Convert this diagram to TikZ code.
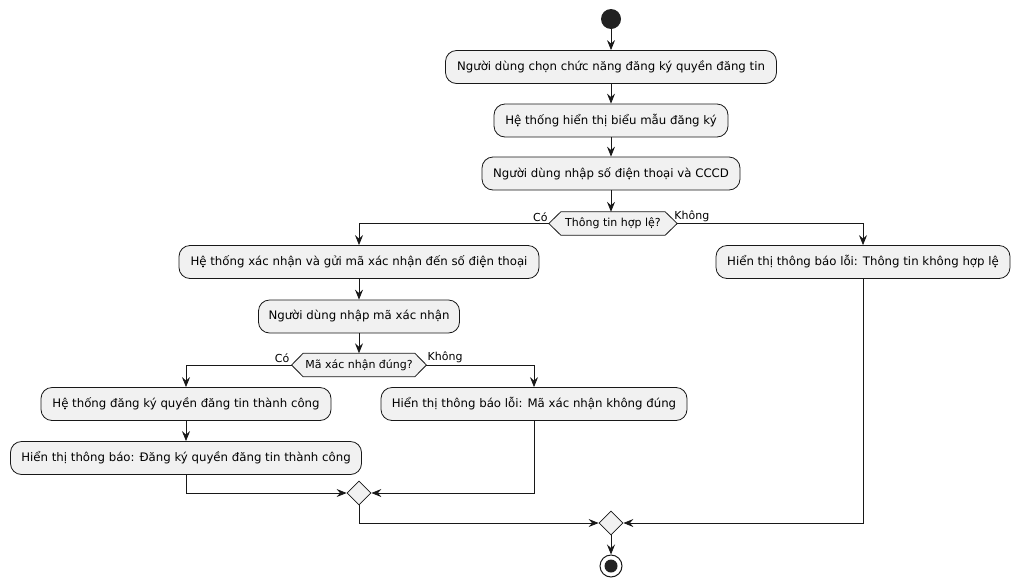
\documentclass[tikz,border=0pt]{standalone}
\usepackage{fontspec}
\setmainfont{DejaVu Sans}
\usetikzlibrary{arrows.meta,shapes.geometric,calc,backgrounds}
\definecolor{boxfill}{HTML}{F1F1F1}
\definecolor{edge}{HTML}{181818}
\definecolor{startc}{HTML}{222222}
\begin{document}
\begin{tikzpicture}[x=1pt,y=-1pt,
  act/.style={draw=edge, fill=boxfill, rounded corners=11pt, line width=0.8pt, minimum height=33pt, inner xsep=8pt, font=\fontsize{11.75}{14}\selectfont},
  dtext/.style={inner xsep=2pt, inner ysep=0pt, minimum height=23pt, font=\fontsize{11}{13}\selectfont},
  hex/.style={draw=edge, fill=boxfill, line width=0.8pt},
  merge/.style={diamond, draw=edge, fill=boxfill, line width=0.8pt, minimum width=24pt, minimum height=24pt, inner sep=0pt},
  arr/.style={draw=edge, line width=0.8pt, -{Stealth[length=10pt,width=8pt,inset=3.5pt]}},
  ln/.style={draw=edge, line width=0.8pt},
  lbl/.style={font=\fontsize{11}{13}\selectfont, inner sep=1pt},
]
\useasboundingbox (0,0) rectangle (1020,587);

\node[circle, fill=startc, minimum size=20pt, inner sep=0pt] (start) at (611,19) {};
\node[act, minimum width=331pt] (b1) at (611,67) {Người dùng chọn chức năng đăng ký quyền đăng tin};
\node[act, minimum width=234pt] (b2) at (611,120.5) {Hệ thống hiển thị biểu mẫu đăng ký};
\node[act, minimum width=258pt] (b3) at (611,173.5) {Người dùng nhập số điện thoại và CCCD};

\node[dtext, minimum width=104pt] (d1) at (613,223.5) {Thông tin hợp lệ?};
\coordinate (d1w) at ($(d1.west)+(-12,0)$);
\coordinate (d1e) at ($(d1.east)+(12,0)$);
\coordinate (d1t) at (611,0 |- d1.north);

\node[act, minimum width=360pt] (b4) at (359,262) {Hệ thống xác nhận và gửi mã xác nhận đến số điện thoại};
\node[act, minimum width=294pt] (br) at (863,262) {Hiển thị thông báo lỗi: Thông tin không hợp lệ};
\node[act, minimum width=201pt] (b5) at (359,316.5) {Người dùng nhập mã xác nhận};

\node[dtext, minimum width=111pt] (d2) at (359,365) {Mã xác nhận đúng?};
\coordinate (d2w) at ($(d2.west)+(-11.5,0)$);
\coordinate (d2e) at ($(d2.east)+(11.5,0)$);

\node[act, minimum width=290pt] (b6) at (186,404) {Hệ thống đăng ký quyền đăng tin thành công};
\node[act, minimum width=306pt] (b8) at (534,404) {Hiển thị thông báo lỗi: Mã xác nhận không đúng};
\node[act, minimum width=351pt] (b7) at (186,458) {Hiển thị thông báo: Đăng ký quyền đăng tin thành công};

\node[merge] (m1) at (359,493) {};
\node[merge] (m2) at (611,523) {};
\node[circle, draw=edge, line width=1pt, fill=white, minimum size=22pt, inner sep=0pt] (stop) at (611,566) {};
\node[circle, fill=startc, minimum size=13pt, inner sep=0pt] (stopdot) at (stop) {};

\begin{pgfonlayer}{background}
\path[hex] (d1.north west) -- (d1.north east) -- (d1e) -- (d1.south east) -- (d1.south west) -- (d1w) -- cycle;
\path[hex] (d2.north west) -- (d2.north east) -- (d2e) -- (d2.south east) -- (d2.south west) -- (d2w) -- cycle;
\end{pgfonlayer}

\node[lbl, anchor=south east] (yes1) at ($(d1w)+(0,-1)$) {Có};
\node[lbl, anchor=south west] (no1) at ($(d1e)+(-4,-1)$) {Không};
\node[lbl, anchor=south east] (yes2) at ($(d2w)+(-1,-1)$) {Có};
\node[lbl, anchor=south west] (no2) at ($(d2e)+(0,-1)$) {Không};

\draw[arr] (start.south) -- (b1.north);
\draw[arr] (b1.south) -- (b2.north);
\draw[arr] (b2.south) -- (b3.north);
\draw[arr] (b3.south) -- (d1t);
\draw[arr] (d1w) -| (b4.north);
\draw[arr] (d1e) -| (br.north);
\draw[arr] (b4.south) -- (b5.north);
\draw[arr] (b5.south) -- (d2.north);
\draw[arr] (d2w) -| (b6.north);
\draw[arr] (d2e) -| (b8.north);
\draw[arr] (b6.south) -- (b7.north);
\draw[arr] (b7.south) |- (m1.west);
\draw[arr] (b8.south) |- (m1.east);
\draw[arr] (m1.south) |- (m2.west);
\draw[arr] (br.south) |- (m2.east);
\draw[arr] (m2.south) -- (stop.north);
\end{tikzpicture}
\end{document}
